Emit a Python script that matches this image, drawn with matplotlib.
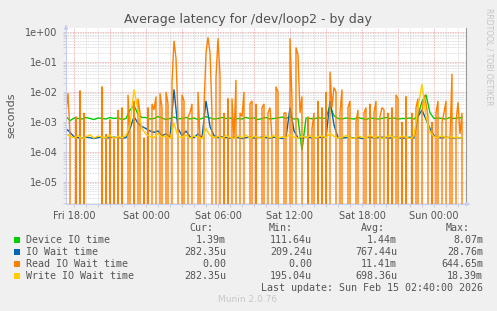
import numpy as np
import matplotlib.pyplot as plt
from matplotlib.patches import Rectangle
from matplotlib.ticker import FixedLocator, LogLocator, NullFormatter, FuncFormatter

W, H = 497, 311

# hours relative to Sat 00:00, graph runs Fri 17:20 -> Sun 02:40
t_start, t_end = -6 - 40 / 60, 26 + 40 / 60

tick_hours = [-6, 0, 6, 12, 18, 24]
tick_labels = ['Fri 18:00', 'Sat 00:00', 'Sat 06:00', 'Sat 12:00', 'Sat 18:00', 'Sun 00:00']
y_ticks = [1e0, 1e-1, 1e-2, 1e-3, 1e-4, 1e-5]

# 20 minute samples, microseconds
device_io = [1500, 1100, 1350, 1300, 1250, 1400, 1300, 1200, 1350, 1300,
             1250, 1400, 1300, 1350, 1200, 1300, 2500, 3500, 1800, 1400,
             1400, 1250, 1300, 1500, 1350, 1200, 1300, 1450, 1250, 1300,
             1400, 1250, 1350, 1200, 1300, 1500, 1350, 1250, 1300, 1400,
             1300, 1350, 1200, 1300, 1250, 1400, 1300, 1350, 1200, 1300,
             1400, 1250, 1300, 1350, 1450, 1300, 1500, 1250, 1300, 112,
             1350, 1300, 1250, 1400, 1300, 1350, 3500, 1600, 1300, 1250,
             1350, 1300, 1250, 1400, 1300, 1200, 1350, 1300, 1250, 1300,
             1400, 1300, 1350, 1250, 1300, 1300, 1350, 1250, 1600, 4800,
             8000, 2000, 1300, 1350, 1300, 1250, 1400, 1300, 1350, 1390]

io_wait = [600, 450, 320, 300, 290, 310, 300, 280, 300, 310,
           290, 300, 310, 300, 290, 300, 600, 1500, 900, 700,
           600, 500, 450, 500, 350, 400, 300, 12000, 600, 350,
           500, 320, 300, 400, 300, 5000, 700, 350, 300, 320,
           300, 290, 310, 300, 280, 300, 310, 290, 300, 310,
           300, 290, 310, 300, 280, 300, 3000, 500, 300, 290,
           310, 300, 290, 300, 310, 300, 5000, 800, 300, 290,
           300, 310, 290, 300, 280, 300, 310, 290, 300, 310,
           300, 290, 310, 300, 280, 300, 310, 290, 1500, 2500,
           1200, 600, 350, 300, 290, 310, 300, 290, 300, 282]

write_wait = [400, 330, 300, 350, 280, 320, 370, 290, 340, 310,
              300, 360, 280, 330, 300, 350, 800, 12000, 2500, 600,
              380, 330, 300, 420, 310, 350, 280, 900, 330, 300,
              360, 290, 340, 310, 280, 600, 350, 300, 330, 290,
              350, 310, 280, 340, 300, 360, 290, 330, 310, 280,
              340, 300, 350, 290, 320, 300, 380, 310, 290, 330,
              300, 350, 280, 320, 340, 300, 420, 330, 290, 310,
              350, 300, 280, 340, 310, 290, 360, 300, 330, 280,
              320, 350, 300, 290, 340, 310, 280, 330, 3000, 18000,
              1500, 450, 330, 300, 350, 290, 320, 300, 310, 282]

# 10 minute samples, microseconds
read_wait = [2000, 9000, 400, 0, 0, 1500, 0, 11000, 0, 2000,
             0, 0, 0, 0, 0, 0, 0, 0, 15000, 0,
             400, 0, 1200, 0, 300, 0, 2500, 0, 3000, 0,
             0, 8000, 400, 0, 5000, 0, 6000, 2000, 0, 300,
             0, 3000, 0, 4000, 2500, 7000, 0, 9000, 3000, 0,
             10000, 4000, 0, 20000, 500000, 130000, 1500, 0, 8000, 5000,
             0, 1500, 2000, 4000, 0, 0, 10000, 300, 0, 3000,
             200000, 650000, 200000, 2000, 0, 30000, 600000, 36000, 0, 2000,
             0, 6000, 0, 6000, 300, 25000, 0, 2000, 1500, 10000,
             0, 0, 4000, 5000, 0, 4000, 0, 0, 3000, 4000,
             0, 2000, 3000, 300, 0, 15000, 10000, 0, 0, 2000,
             2000, 0, 600000, 5000, 0, 300000, 170000, 2000, 7000, 0,
             0, 1500, 0, 600, 2000, 0, 5000, 0, 3000, 0,
             10000, 0, 47000, 3000, 14000, 10000, 0, 2000, 12000, 0,
             0, 3000, 5000, 0, 0, 1000, 2500, 0, 0, 2000,
             3000, 0, 4000, 0, 2000, 5000, 0, 1500, 3000, 2500,
             0, 2000, 0, 3000, 0, 8000, 6000, 0, 1000, 0,
             7000, 0, 0, 2000, 0, 3000, 6000, 0, 2000, 8000,
             4000, 1500, 0, 1000, 0, 2000, 5000, 0, 1000, 2000,
             5000, 0, 300, 40000, 0, 1000, 4500, 400, 2000, 0]

series = [
    ('Device IO time', device_io, '#00CC00', 20, '1.39m', '111.64u', '1.44m', '8.07m'),
    ('IO Wait time', io_wait, '#0066B3', 20, '282.35u', '209.24u', '767.44u', '28.76m'),
    ('Read IO Wait time', read_wait, '#FF8000', 10, '0.00', '0.00', '11.41m', '644.65m'),
    ('Write IO Wait time', write_wait, '#FFCC00', 20, '282.35u', '195.04u', '698.36u', '18.39m'),
]

text_col = '#555555'

fig = plt.figure(figsize=(W / 100, H / 100), dpi=100, facecolor='#F0F0F0')
ax = fig.add_axes([66 / W, 1 - 204 / H, 400 / W, 176 / H])
ax.set_facecolor('white')

for name, vals, col, step, *_ in series:
    v = np.array(vals, dtype=float) * 1e-6
    t = t_start + np.arange(len(v)) * step / 60
    ax.plot(t, v, color=col, lw=1.0, solid_joinstyle='miter')

ax.set_yscale('log', nonpositive='clip')
ax.set_ylim(1.86e-6, 1.33)
ax.set_xlim(t_start, t_end)

# y grid
ax.yaxis.set_major_locator(FixedLocator(y_ticks))
ax.yaxis.set_minor_locator(LogLocator(base=10, subs=np.arange(2, 10), numticks=20))
ax.yaxis.set_major_formatter(FuncFormatter(lambda v, p: f'{v:.0e}'))
ax.yaxis.set_minor_formatter(NullFormatter())

# x grid: labels every 6h, major lines every 3h, minor every hour
major_x = np.arange(-6, 27, 3)
ax.xaxis.set_major_locator(FixedLocator(major_x))
ax.set_xticklabels([tick_labels[tick_hours.index(h)] if h in tick_hours else '' for h in major_x])
ax.xaxis.set_minor_locator(FixedLocator(np.arange(-6, 27, 1)))

ax.grid(which='minor', color='#d4d4d4', ls=(0, (1, 1)), lw=0.6)
ax.grid(which='major', color='#e8a0a0', ls=(0, (1, 1)), lw=0.6)
ax.set_axisbelow(True)

ax.tick_params(which='both', length=2, width=0.6, colors='#c8c8c8', labelcolor=text_col,
               labelsize=7)
ax.tick_params(axis='x', pad=3)
ax.tick_params(axis='y', pad=4)

ax.spines['top'].set_visible(False)
ax.spines['right'].set_color('#999999')
ax.spines['right'].set_linewidth(0.8)
for s in ['left', 'bottom']:
    ax.spines[s].set_color('#c8ccf4')
    ax.spines[s].set_linewidth(0.8)

# axis arrows
ax.annotate('', xy=(0, 1.035), xytext=(0, 0.99), xycoords='axes fraction',
            arrowprops=dict(arrowstyle='-|>', color='#c8ccf4', lw=0.8, mutation_scale=6),
            annotation_clip=False)
ax.annotate('', xy=(1.018, 0), xytext=(0.99, 0), xycoords='axes fraction',
            arrowprops=dict(arrowstyle='-|>', color='#c8ccf4', lw=0.8, mutation_scale=6),
            annotation_clip=False)


def px(x, y):
    return x / W, 1 - y / H


fig.text(*px(248, 19), 'Average latency for /dev/loop2 - by day', ha='center', va='center',
         fontsize=9, color='#505050')
fig.text(*px(11, 115), 'seconds', rotation=90, ha='center', va='center',
         fontsize=8, color=text_col)
fig.text(*px(489, 57), 'RRDTOOL / TOBI OETIKER', rotation=270, ha='center', va='center',
         fontsize=5.5, color='#c4c4c4')

mono = dict(family='DejaVu Sans Mono', fontsize=7.2, color=text_col, va='center')
header_x = [213, 293, 385, 470]
value_x = [226, 312, 397, 483]
for hx, lab in zip(header_x, ['Cur:', 'Min:', 'Avg:', 'Max:']):
    fig.text(*px(hx, 228), lab, ha='right', **mono)

row_y = [240, 252, 264, 276]
for (name, vals, col, step, cur, mn, avg, mx), ry in zip(series, row_y):
    fig.patches.append(Rectangle(px(14, ry + 3), 6 / W, 6 / H, transform=fig.transFigure,
                                 facecolor=col, edgecolor='none'))
    fig.text(*px(26, ry), name, ha='left', **mono)
    for vx, s in zip(value_x, [cur, mn, avg, mx]):
        fig.text(*px(vx, ry), s, ha='right', **mono)

fig.text(*px(483, 288), 'Last update: Sun Feb 15 02:40:00 2026', ha='right', **mono)
fig.text(*px(248, 300), 'Munin 2.0.76', ha='center', va='center', fontsize=6.5, color='#c8c8c8')

fig.savefig('out.png', dpi=100, facecolor=fig.get_facecolor())
